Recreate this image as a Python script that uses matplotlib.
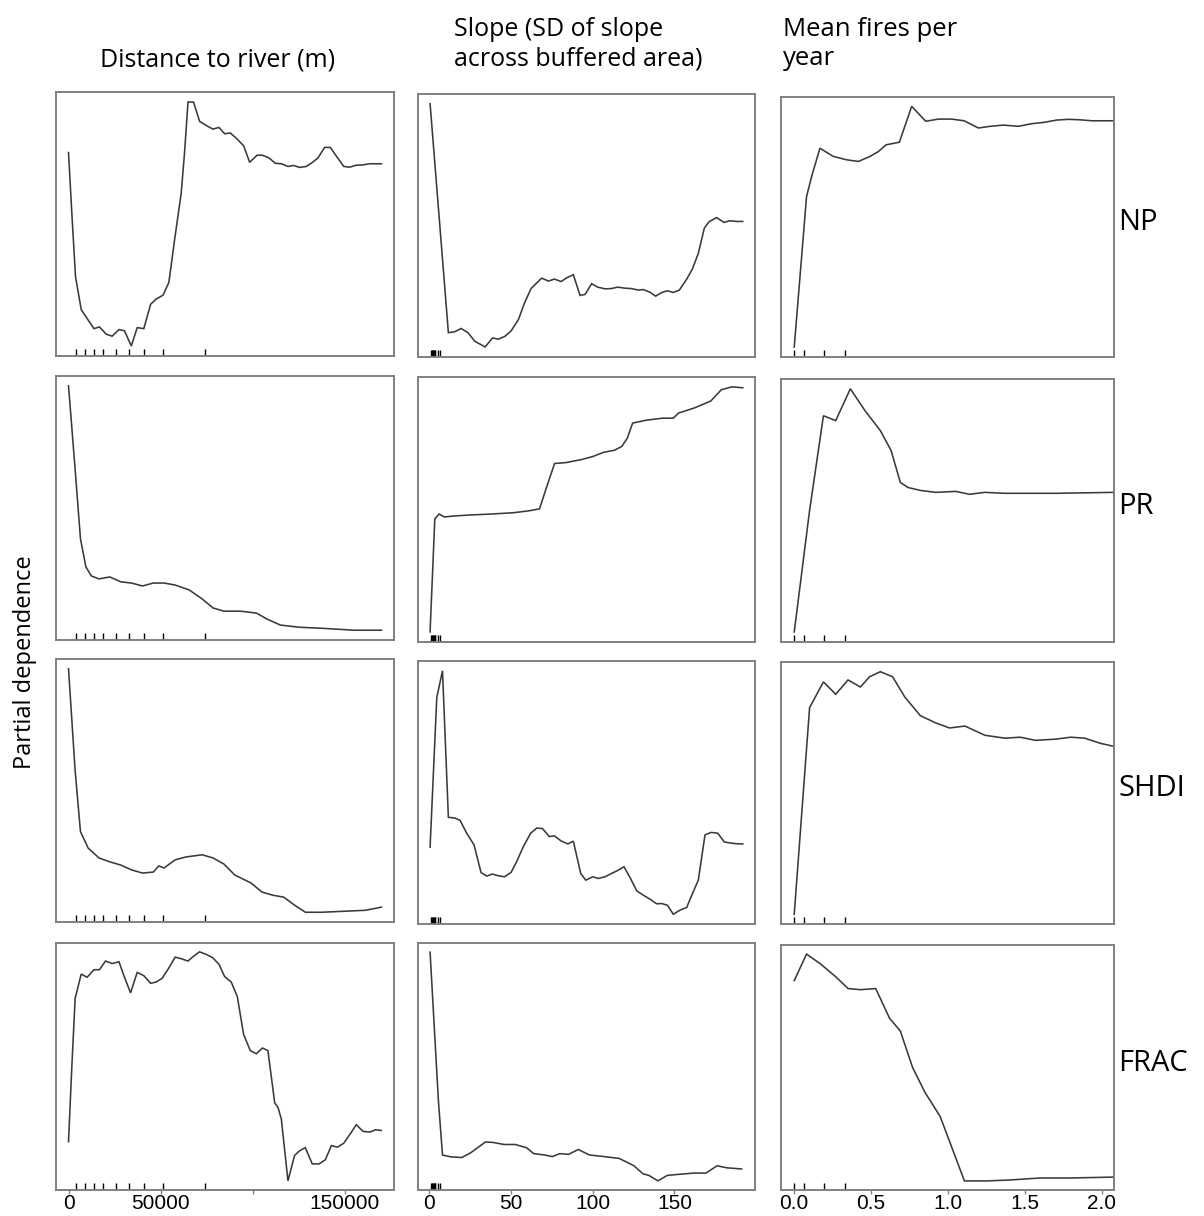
import numpy as np
import matplotlib
matplotlib.use("Agg")
from matplotlib import pyplot as plt

# --- x grids and partial dependence (arbitrary units) ---

# distance to river (m)
dist_np_x = [0, 1800, 3800, 6900, 10500, 13800, 16800, 20500, 23700, 27400, 30400, 34100,
             37300, 40900, 44600, 47600, 51300, 54500, 57600, 61200, 63000, 64900, 67900,
             71200, 74800, 78400, 81700, 84800, 87900, 91100, 95100, 98400, 102400, 105300,
             108900, 112300, 115600, 119200, 122300, 125500, 129200, 132400, 135500, 139100,
             142200, 146000, 149500, 152700, 156300, 159600, 163600, 170000]
dist_np_y = [0.793, 0.544, 0.284, 0.149, 0.108, 0.071, 0.078, 0.048, 0.040, 0.067, 0.062, 0.0,
             0.075, 0.071, 0.171, 0.192, 0.208, 0.260, 0.434, 0.626, 0.790, 1.0, 1.0,
             0.921, 0.904, 0.889, 0.896, 0.870, 0.873, 0.852, 0.821, 0.753, 0.782, 0.782,
             0.771, 0.749, 0.747, 0.736, 0.740, 0.732, 0.736, 0.752, 0.771, 0.814,
             0.814, 0.773, 0.736, 0.733, 0.741, 0.742, 0.747, 0.747]

dist_pr_x = [0, 3540, 6490, 9440, 12400, 16530, 22430, 28330, 34240, 40140, 46040, 51950,
             57850, 65520, 72610, 78510, 84410, 93270, 102100, 108000, 115100, 125700,
             137500, 155200, 170000]
dist_pr_y = [1.0, 0.663, 0.374, 0.259, 0.222, 0.210, 0.218, 0.198, 0.193, 0.181, 0.193, 0.193,
             0.185, 0.165, 0.128, 0.091, 0.078, 0.078, 0.070, 0.045, 0.021, 0.012,
             0.008, 0.0, 0.0]

dist_shdi_x = [0, 3540, 6490, 10630, 16530, 22430, 28330, 34240, 40140, 46040, 49000, 51950,
               57850, 63750, 72610, 78510, 84410, 90320, 99170, 105100, 111000, 116900,
               122800, 128700, 137500, 149300, 161200, 170000]
dist_shdi_y = [1.0, 0.587, 0.331, 0.264, 0.223, 0.207, 0.194, 0.174, 0.161, 0.165, 0.190, 0.182,
               0.215, 0.227, 0.236, 0.223, 0.198, 0.153, 0.120, 0.083, 0.070, 0.062,
               0.029, 0.0, 0.0, 0.004, 0.008, 0.021]

dist_frac_x = [0, 1800, 3600, 6900, 10100, 13800, 16800, 20100, 23700, 27400, 30400, 33700,
               37300, 40900, 44600, 47600, 50900, 54300, 57900, 61200, 64900, 68100, 71200,
               74800, 78400, 81700, 84800, 88400, 91700, 95100, 98700, 102000, 105300,
               108300, 112000, 113800, 115600, 119200, 122800, 125500, 128600, 132400,
               136100, 139500, 142800, 146000, 149500, 153100, 156300, 160000, 163600,
               166800, 169900]
dist_frac_y = [0.171, 0.498, 0.797, 0.903, 0.889, 0.922, 0.922, 0.960, 0.949, 0.957, 0.889, 0.821,
               0.910, 0.896, 0.863, 0.868, 0.885, 0.927, 0.977, 0.970, 0.960, 0.982, 1.0,
               0.989, 0.974, 0.946, 0.892, 0.868, 0.804, 0.640, 0.569, 0.555, 0.580,
               0.569, 0.341, 0.320, 0.270, 0.0, 0.111, 0.131, 0.145, 0.074,
               0.074, 0.092, 0.154, 0.147, 0.164, 0.206, 0.245, 0.216, 0.213,
               0.223, 0.220]

# slope (SD of slope across buffered area)
slope_np_x = [0.4, 11.6, 15.3, 19.4, 23.5, 27.9, 34.1, 38.6, 42.2, 46.3, 50.0, 54.5, 58.1, 62.2,
              68.7, 72.8, 76.5, 80.6, 84.0, 88.1, 92.2, 95.3, 99.3, 103.0, 107.5, 111.2, 115.3,
              119.3, 123.8, 127.9, 131.0, 135.0, 138.5, 142.2, 145.7, 149.3, 153.0, 157.5,
              161.0, 164.6, 168.3, 171.2, 175.8, 180.3, 184.0, 188.1, 191.8]
slope_np_y = [1.0, 0.059, 0.062, 0.076, 0.059, 0.023, 0.0, 0.037, 0.032, 0.044, 0.066, 0.113,
              0.179, 0.240, 0.283, 0.271, 0.279, 0.269, 0.284, 0.297, 0.212, 0.216, 0.260,
              0.246, 0.239, 0.240, 0.246, 0.242, 0.240, 0.234, 0.236, 0.225, 0.209, 0.224,
              0.231, 0.224, 0.234, 0.279, 0.321, 0.385, 0.489, 0.515, 0.532, 0.512, 0.519,
              0.516, 0.516]

slope_pr_x = [0.4, 3.3, 5.9, 9.2, 15.1, 24.9, 38.0, 51.1, 60.9, 67.4, 71.4, 76.6, 83.8, 93.6,
              100.2, 106.7, 113.2, 117.8, 121.1, 124.4, 132.9, 142.7, 149.3, 152.5, 162.3,
              172.2, 178.7, 185.2, 191.8]
slope_pr_y = [0.0, 0.461, 0.481, 0.469, 0.473, 0.477, 0.481, 0.486, 0.494, 0.502, 0.584, 0.687,
              0.691, 0.704, 0.716, 0.733, 0.741, 0.757, 0.790, 0.852, 0.864, 0.872, 0.872,
              0.893, 0.914, 0.942, 0.988, 1.0, 0.996]

slope_shdi_x = [0.4, 4.5, 8.0, 11.6, 15.7, 18.8, 22.8, 27.3, 31.6, 35.1, 38.6, 42.2, 45.9, 50.0,
                53.4, 57.5, 62.0, 65.7, 69.2, 73.4, 76.5, 80.6, 84.7, 88.1, 92.6, 95.7, 100.0,
                103.4, 107.5, 111.6, 115.3, 119.1, 122.8, 126.9, 131.0, 135.0, 139.1, 142.2,
                145.7, 149.3, 153.4, 157.5, 161.0, 164.6, 168.7, 172.4, 176.5, 180.5, 184.6,
                189.1, 191.8]
slope_shdi_y = [0.275, 0.890, 1.0, 0.398, 0.395, 0.385, 0.333, 0.285, 0.171, 0.157, 0.165, 0.158,
                0.154, 0.172, 0.216, 0.278, 0.333, 0.354, 0.352, 0.319, 0.322, 0.301, 0.289,
                0.300, 0.168, 0.140, 0.154, 0.147, 0.154, 0.168, 0.180, 0.195, 0.151, 0.096,
                0.078, 0.062, 0.043, 0.044, 0.037, 0.0, 0.017, 0.028, 0.085, 0.140, 0.326,
                0.336, 0.333, 0.297, 0.292, 0.289, 0.289]

slope_frac_x = [0.4, 5.5, 8.0, 13.0, 19.8, 25.3, 34.3, 38.9, 45.7, 52.5, 59.4, 63.9, 70.7, 75.2,
                79.8, 85.2, 91.1, 98.0, 107.0, 116.2, 125.2, 130.7, 134.3, 139.8, 145.7,
                150.2, 157.0, 161.6, 169.3, 176.1, 182.0, 191.1]
slope_frac_y = [1.0, 0.35, 0.113, 0.105, 0.102, 0.123, 0.170, 0.168, 0.159, 0.159, 0.145, 0.119,
                0.113, 0.106, 0.119, 0.116, 0.137, 0.113, 0.106, 0.098, 0.066, 0.031, 0.024,
                0.0, 0.024, 0.027, 0.031, 0.034, 0.034, 0.066, 0.057, 0.052]

# mean fires per year
fire_np_x = [0.0, 0.080, 0.113, 0.167, 0.254, 0.340, 0.417, 0.493, 0.547, 0.597, 0.684, 0.764,
             0.855, 0.938, 1.024, 1.105, 1.198, 1.274, 1.361, 1.458, 1.545, 1.621, 1.708,
             1.784, 1.860, 1.936, 2.055, 2.08]
fire_np_y = [0.0, 0.625, 0.708, 0.826, 0.792, 0.778, 0.771, 0.792, 0.812, 0.840, 0.851, 1.0,
             0.938, 0.947, 0.947, 0.940, 0.910, 0.917, 0.922, 0.917, 0.928, 0.933, 0.943,
             0.946, 0.944, 0.940, 0.940, 0.940]

fire_pr_x = [0.0, 0.10, 0.19, 0.27, 0.365, 0.46, 0.56, 0.63, 0.69, 0.74, 0.82, 0.92, 1.05,
             1.14, 1.24, 1.37, 1.70, 2.08]
fire_pr_y = [0.0, 0.5, 0.889, 0.869, 1.0, 0.91, 0.828, 0.746, 0.615, 0.594, 0.582, 0.574,
             0.578, 0.566, 0.574, 0.570, 0.570, 0.574]

fire_shdi_x = [0.0, 0.10, 0.19, 0.27, 0.35, 0.43, 0.49, 0.56, 0.64, 0.72, 0.82, 0.92, 1.01,
               1.11, 1.24, 1.37, 1.47, 1.57, 1.70, 1.80, 1.89, 1.99, 2.08]
fire_shdi_y = [0.0, 0.852, 0.958, 0.907, 0.966, 0.937, 0.979, 1.0, 0.979, 0.895, 0.819, 0.789,
               0.768, 0.776, 0.738, 0.726, 0.730, 0.717, 0.722, 0.730, 0.726, 0.705, 0.692]

fire_frac_x = [0.0, 0.08, 0.17, 0.27, 0.35, 0.43, 0.53, 0.62, 0.69, 0.77, 0.85, 0.95, 1.107,
               1.25, 1.4, 1.6, 1.8, 2.08]
fire_frac_y = [0.883, 1.0, 0.957, 0.9, 0.848, 0.843, 0.848, 0.717, 0.661, 0.5, 0.391, 0.283,
               0.0, 0.0, 0.004, 0.013, 0.013, 0.017]

# rug (deciles of each predictor)
dist_rug = [4200, 9100, 13750, 19000, 25900, 32600, 40900, 51250, 74300]
slope_rug = [1.2, 1.6, 2.0, 2.4, 2.8, 3.2, 3.6, 5.2, 6.7]
fire_rug = [0.0, 0.063, 0.195, 0.33]

responses = ["NP", "PR", "SHDI", "FRAC"]
col_titles = ["Distance to river (m)", "Slope (SD of slope\nacross buffered area)",
              "Mean fires per\nyear"]

curves = [
    [(dist_np_x, dist_np_y), (slope_np_x, slope_np_y), (fire_np_x, fire_np_y)],
    [(dist_pr_x, dist_pr_y), (slope_pr_x, slope_pr_y), (fire_pr_x, fire_pr_y)],
    [(dist_shdi_x, dist_shdi_y), (slope_shdi_x, slope_shdi_y), (fire_shdi_x, fire_shdi_y)],
    [(dist_frac_x, dist_frac_y), (slope_frac_x, slope_frac_y), (fire_frac_x, fire_frac_y)],
]
rugs = [dist_rug, slope_rug, fire_rug]
xlims = [(-6800, 176800), (-7.3, 199.3), (-0.088, 2.08)]
xticks = [[0, 50000, 100000, 150000], [0, 50, 100, 150], [0.0, 0.5, 1.0, 1.5, 2.0]]
xticklabels = [["0", "50000", "", "150000"], ["0", "50", "100", "150"],
               ["0.0", "0.5", "1.0", "1.5", "2.0"]]

W, H = 1204, 1216
# panel boxes in pixels: left, top, right, bottom
col_lr = [(56, 394), (417.5, 755), (780.7, 1114)]
row_tb = [
    [(92.3, 355.7), (94, 356.7), (96.7, 356.7)],
    [(376, 640), (377, 641.7), (379, 641.7)],
    [(659, 922), (661, 924), (662, 924)],
    [(942.7, 1190), (943, 1190), (945, 1190)],
]

frame = "#808080"
ink = "#3a3a3a"
title_font = "Open Sans"

fig = plt.figure(figsize=(W / 100, H / 100), dpi=100)

for r in range(4):
    for c in range(3):
        l, rr = col_lr[c]
        t, b = row_tb[r][c]
        ax = fig.add_axes([l / W, 1 - b / H, (rr - l) / W, (b - t) / H])
        x, y = curves[r][c]
        ax.plot(x, y, color=ink, lw=1.15, solid_joinstyle="miter")
        lo, hi = min(y), max(y)
        pad = 0.04 * (hi - lo)
        ax.set_ylim(lo - pad, hi + pad)
        ax.set_xlim(*xlims[c])
        ax.vlines(rugs[c], 0, 0.027, transform=ax.get_xaxis_transform(),
                  color="black", lw=1.0)
        for s in ax.spines.values():
            s.set_color(frame)
            s.set_linewidth(1.4)
        ax.set_yticks([])
        if r == 3:
            ax.set_xticks(xticks[c])
            ax.set_xticklabels(xticklabels[c], family="Liberation Sans", fontsize=15)
            ax.tick_params(axis="x", direction="out", length=3, width=1, color=frame,
                           pad=0, labelcolor="black")
        else:
            ax.set_xticks([])
        if r == 0:
            if c == 0:
                fig.text(218 / W, 1 - 60 / H, col_titles[c], ha="center", va="center",
                         family=title_font, fontsize=18)
            elif c == 1:
                fig.text((l + 36) / W, 1 - 44 / H, col_titles[c], ha="left", va="center",
                         family=title_font, fontsize=18, linespacing=1.25)
            else:
                fig.text((l + 2) / W, 1 - 44 / H, col_titles[c], ha="left", va="center",
                         family=title_font, fontsize=18.5, linespacing=1.25)
        if c == 2:
            fig.text(1118 / W, 1 - ((t + b) / 2 - 4) / H, responses[r], ha="left",
                     va="center", family=title_font, fontsize=21)

fig.text(25 / W, 1 - 662 / H, "Partial dependence", rotation=90, ha="center", va="center",
         family=title_font, fontsize=17)

fig.savefig("out.png", dpi=100, facecolor="white")
